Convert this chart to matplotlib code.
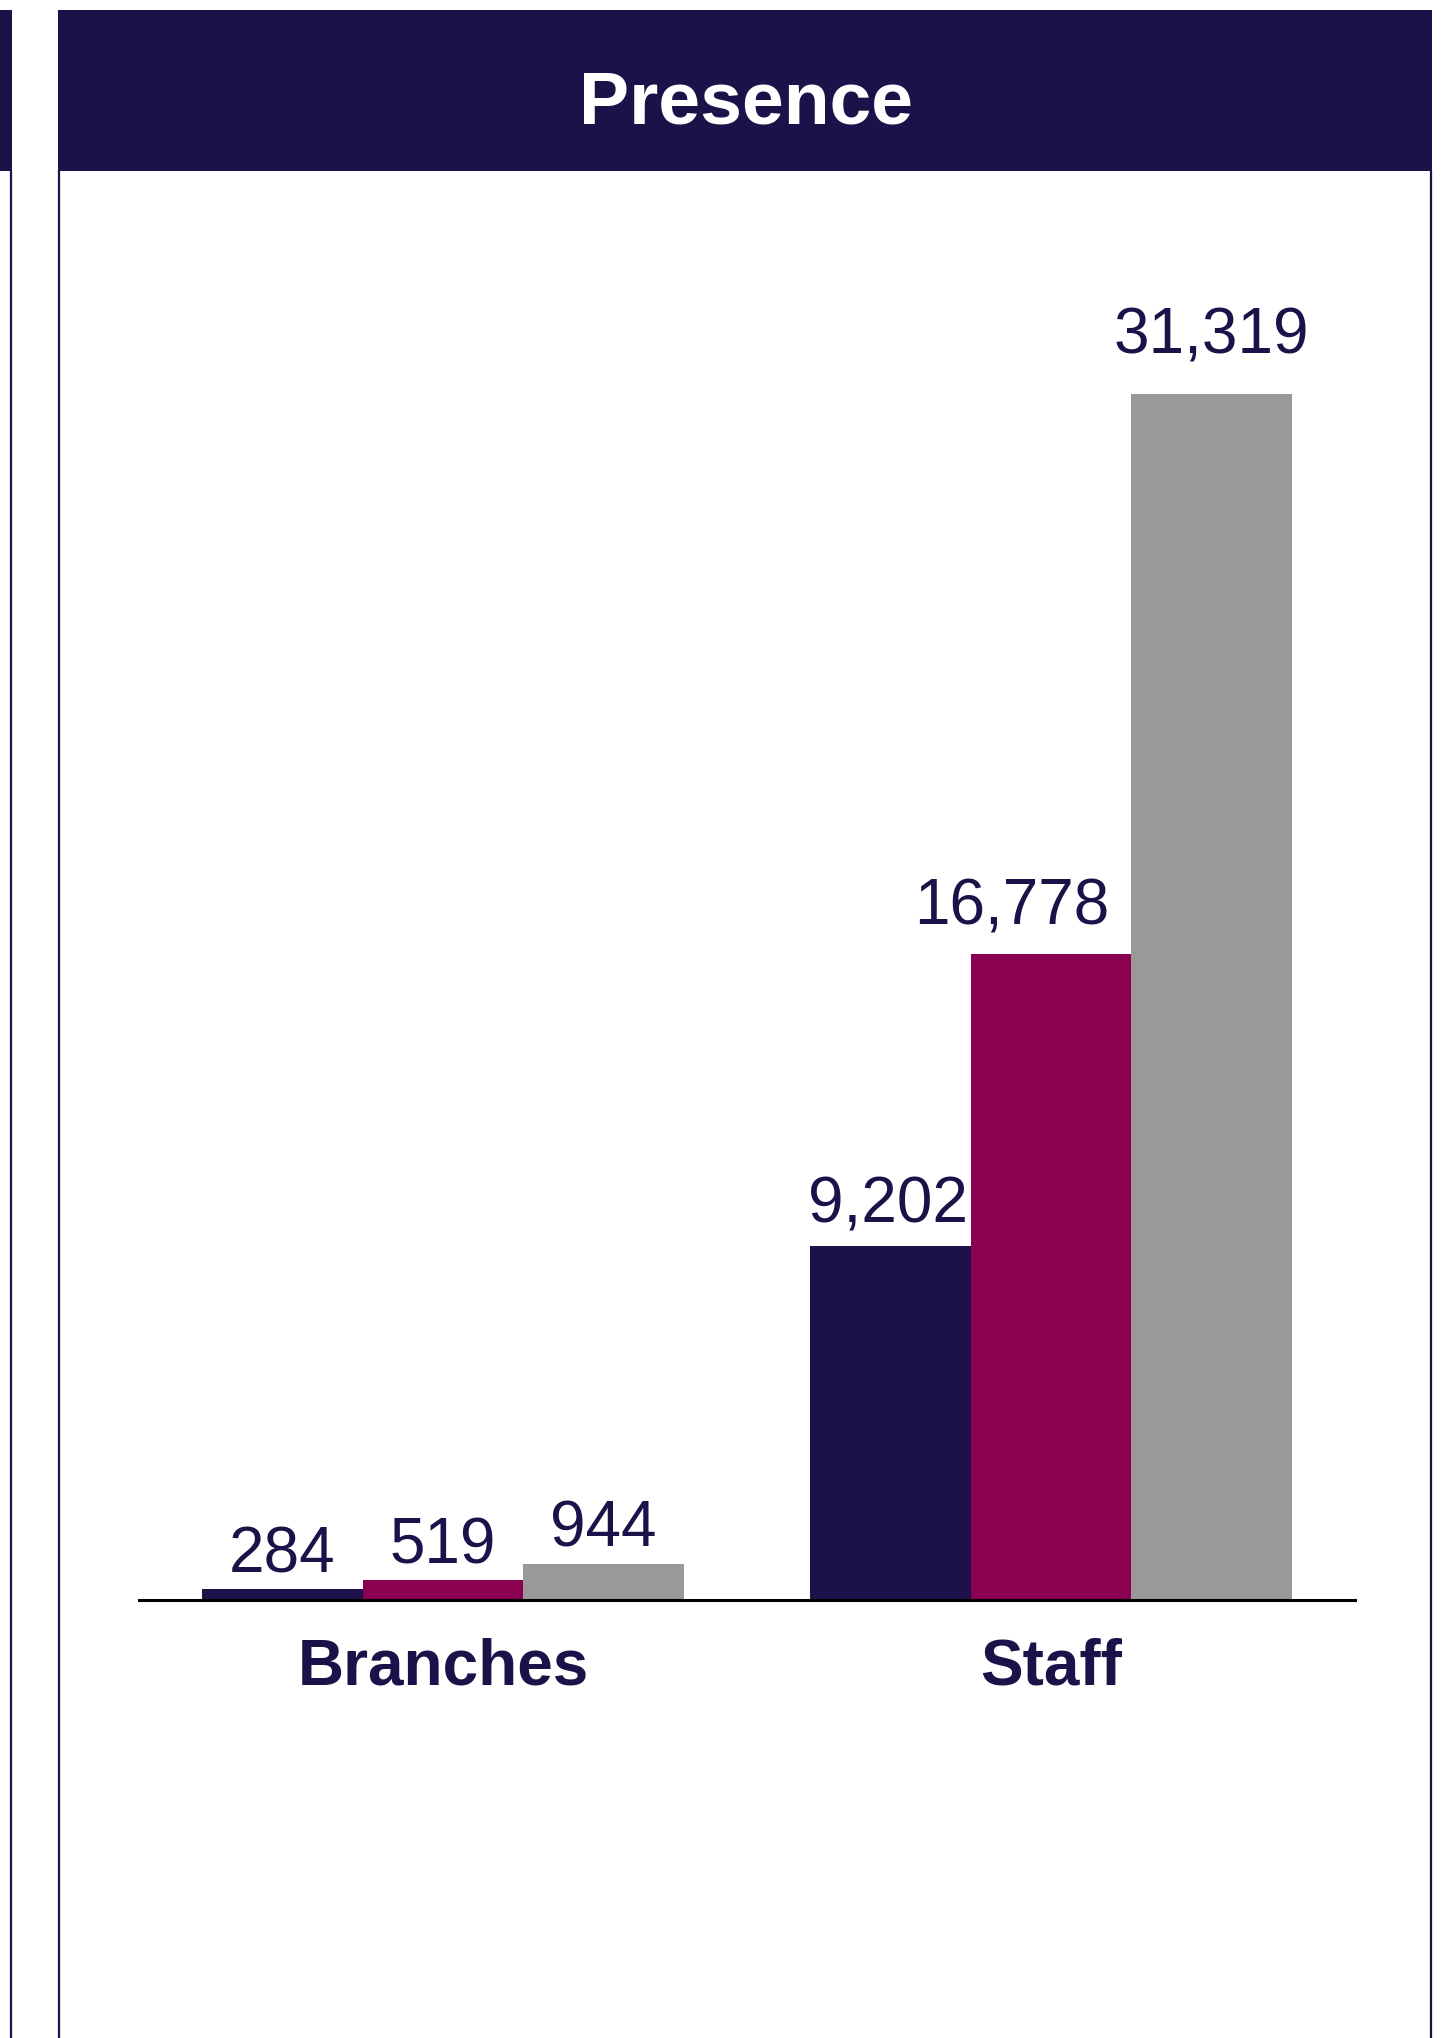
import matplotlib
matplotlib.use("Agg")
import matplotlib.pyplot as plt
from matplotlib.patches import Rectangle
from matplotlib.lines import Line2D
import numpy as np

categories = ["Branches", "Staff"]
series_a = [284, 9202]
series_b = [519, 16778]
series_c = [944, 31319]
title = "Presence"

NAVY = "#1B1249"
MAGENTA = "#8B0050"
GRAY = "#999999"

W, H = 1450, 2038
fig = plt.figure(figsize=(W / 100, H / 100), dpi=100)
plt.rcParams['font.family'] = ['Liberation Sans', 'DejaVu Sans']

def fx(px):
    return px / W

def fy(py):
    return 1 - py / H

# decorations: header bars and side lines
fig.add_artist(Rectangle((fx(0), fy(171)), fx(12), (171 - 10) / H,
                         transform=fig.transFigure, color=NAVY, lw=0))
fig.add_artist(Rectangle((fx(58), fy(171)), fx(1432 - 58), (171 - 10) / H,
                         transform=fig.transFigure, color=NAVY, lw=0))
for xp in (11, 59, 1431):
    fig.add_artist(Line2D([fx(xp), fx(xp)], [fy(171), fy(H)],
                          transform=fig.transFigure, color=NAVY, lw=1.6))
fig.text(fx(746), fy(104), title, color="white", fontsize=54,
         fontweight="bold", ha="center", va="center")

# axes
top_px = 252.3
ax = fig.add_axes([fx(139), fy(1600), fx(1355 - 139), (1600 - top_px) / H])
ax.set_xlim(-0.5, 1.5)
ax.set_ylim(0, 35000)

x = np.arange(len(categories))
w = 0.264
# horizontal nudges (points) for value labels, per series per category
nudges = [[0, -2], [0, -28], [0, 0]]
for k, (off, vals, col) in enumerate(((-w, series_a, NAVY), (0, series_b, MAGENTA), (w, series_c, GRAY))):
    ax.bar(x + off, vals, width=w, color=col, linewidth=0)
    for i, (xi, v) in enumerate(zip(x + off, vals)):
        ax.annotate(f"{v:,}", (xi, v * 1.02), xytext=(nudges[k][i], 2.5),
                    textcoords="offset points",
                    ha="center", va="bottom", fontsize=46, color=NAVY)

ax.set_xticks(x)
ax.set_xticklabels(categories, fontsize=46, fontweight="bold", color=NAVY)
ax.tick_params(axis="x", length=0, pad=27)
ax.set_yticks([])
for s in ("left", "right", "top"):
    ax.spines[s].set_visible(False)
ax.spines["bottom"].set_color("black")
ax.spines["bottom"].set_linewidth(2.2)
ax.patch.set_alpha(0)

fig.savefig("out.png", dpi=100, facecolor="white")
